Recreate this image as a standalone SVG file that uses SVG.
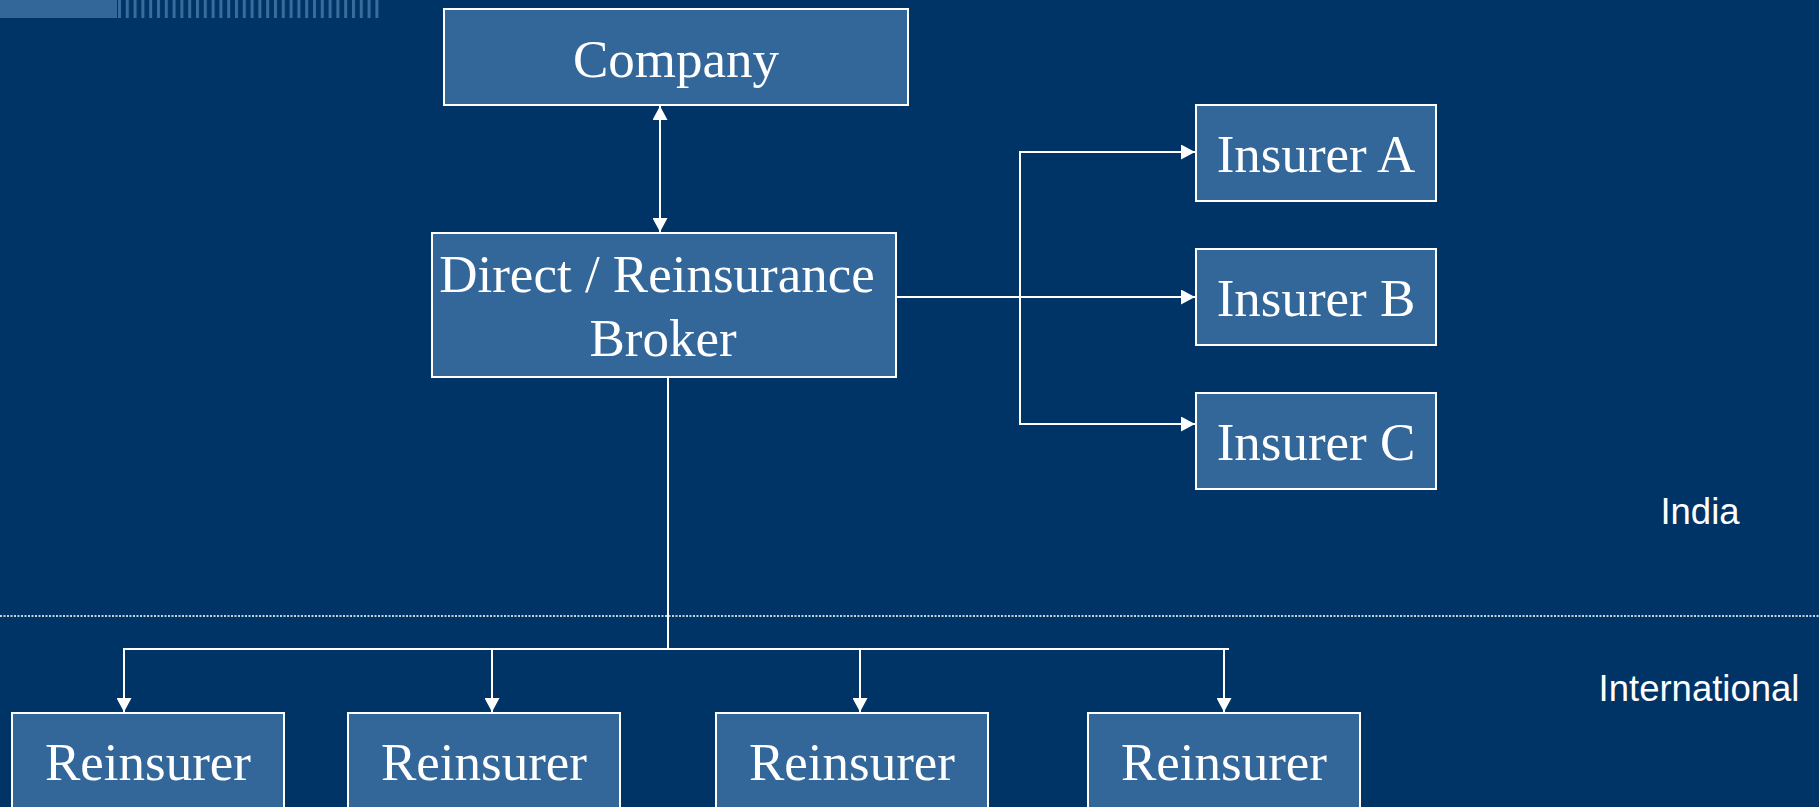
<svg xmlns="http://www.w3.org/2000/svg" width="1819" height="807" viewBox="0 0 1819 807">
<style>
.box{fill:#336699;stroke:#ffffff;stroke-width:2}
.t{font-family:"Liberation Serif","Times New Roman",serif;font-size:53px;fill:#ffffff;text-anchor:middle}
.lbl{font-family:"Liberation Sans",Arial,sans-serif;font-size:36.5px;fill:#ffffff;text-anchor:middle}
.c{fill:none;stroke:#ffffff;stroke-width:2}
</style>
<defs>
<marker id="ah" markerUnits="userSpaceOnUse" markerWidth="14" markerHeight="15" refX="14" refY="7.5" orient="auto-start-reverse">
<path d="M0,0 L14,7.5 L0,15 z" fill="#ffffff"/>
</marker>
<pattern id="stripes" x="117" y="0" width="7.8" height="18" patternUnits="userSpaceOnUse">
<rect x="1" y="0" width="3" height="18" fill="#3a6c9e"/>
</pattern>
</defs>
<rect x="0" y="0" width="1819" height="807" fill="#003366"/>
<g id="decor">
<rect x="0" y="0" width="117" height="18" fill="#336699"/>
<rect x="117" y="0" width="266" height="18" fill="url(#stripes)"/>
<line x1="0" y1="616" x2="1819" y2="616" stroke="#c8d2dc" stroke-width="2" stroke-dasharray="2 1.5"/>
</g>
<g id="connectors">
<line class="c" x1="660" y1="106" x2="660" y2="232" marker-start="url(#ah)" marker-end="url(#ah)"/>
<line class="c" x1="891" y1="297" x2="1195" y2="297" marker-end="url(#ah)"/>
<polyline class="c" points="1195,152 1020,152 1020,424 1195,424" marker-start="url(#ah)" marker-end="url(#ah)"/>
<line class="c" x1="668" y1="377" x2="668" y2="649"/>
<line class="c" x1="123" y1="649" x2="1229" y2="649"/>
<line class="c" x1="124" y1="649" x2="124" y2="712" marker-end="url(#ah)"/>
<line class="c" x1="492" y1="649" x2="492" y2="712" marker-end="url(#ah)"/>
<line class="c" x1="860" y1="649" x2="860" y2="712" marker-end="url(#ah)"/>
<line class="c" x1="1224" y1="649" x2="1224" y2="712" marker-end="url(#ah)"/>
</g>
<g id="company">
<rect class="box" x="444" y="9" width="464" height="96"/>
<text class="t" x="676" y="77">Company</text>
</g>
<g id="broker">
<rect class="box" x="432" y="233" width="464" height="144"/>
<text class="t" x="657" y="292">Direct / Reinsurance</text>
<text class="t" x="663" y="356">Broker</text>
</g>
<g id="insurerA">
<rect class="box" x="1196" y="105" width="240" height="96"/>
<text class="t" x="1316" y="172">Insurer A</text>
</g>
<g id="insurerB">
<rect class="box" x="1196" y="249" width="240" height="96"/>
<text class="t" x="1316" y="316">Insurer B</text>
</g>
<g id="insurerC">
<rect class="box" x="1196" y="393" width="240" height="96"/>
<text class="t" x="1316" y="460">Insurer C</text>
</g>
<g id="reinsurer1">
<rect class="box" x="12" y="713" width="272" height="110"/>
<text class="t" x="148" y="780">Reinsurer</text>
</g>
<g id="reinsurer2">
<rect class="box" x="348" y="713" width="272" height="110"/>
<text class="t" x="484" y="780">Reinsurer</text>
</g>
<g id="reinsurer3">
<rect class="box" x="716" y="713" width="272" height="110"/>
<text class="t" x="852" y="780">Reinsurer</text>
</g>
<g id="reinsurer4">
<rect class="box" x="1088" y="713" width="272" height="110"/>
<text class="t" x="1224" y="780">Reinsurer</text>
</g>
<g id="regions">
<text class="lbl" x="1700" y="524">India</text>
<text class="lbl" x="1699" y="701">International</text>
</g>
</svg>
